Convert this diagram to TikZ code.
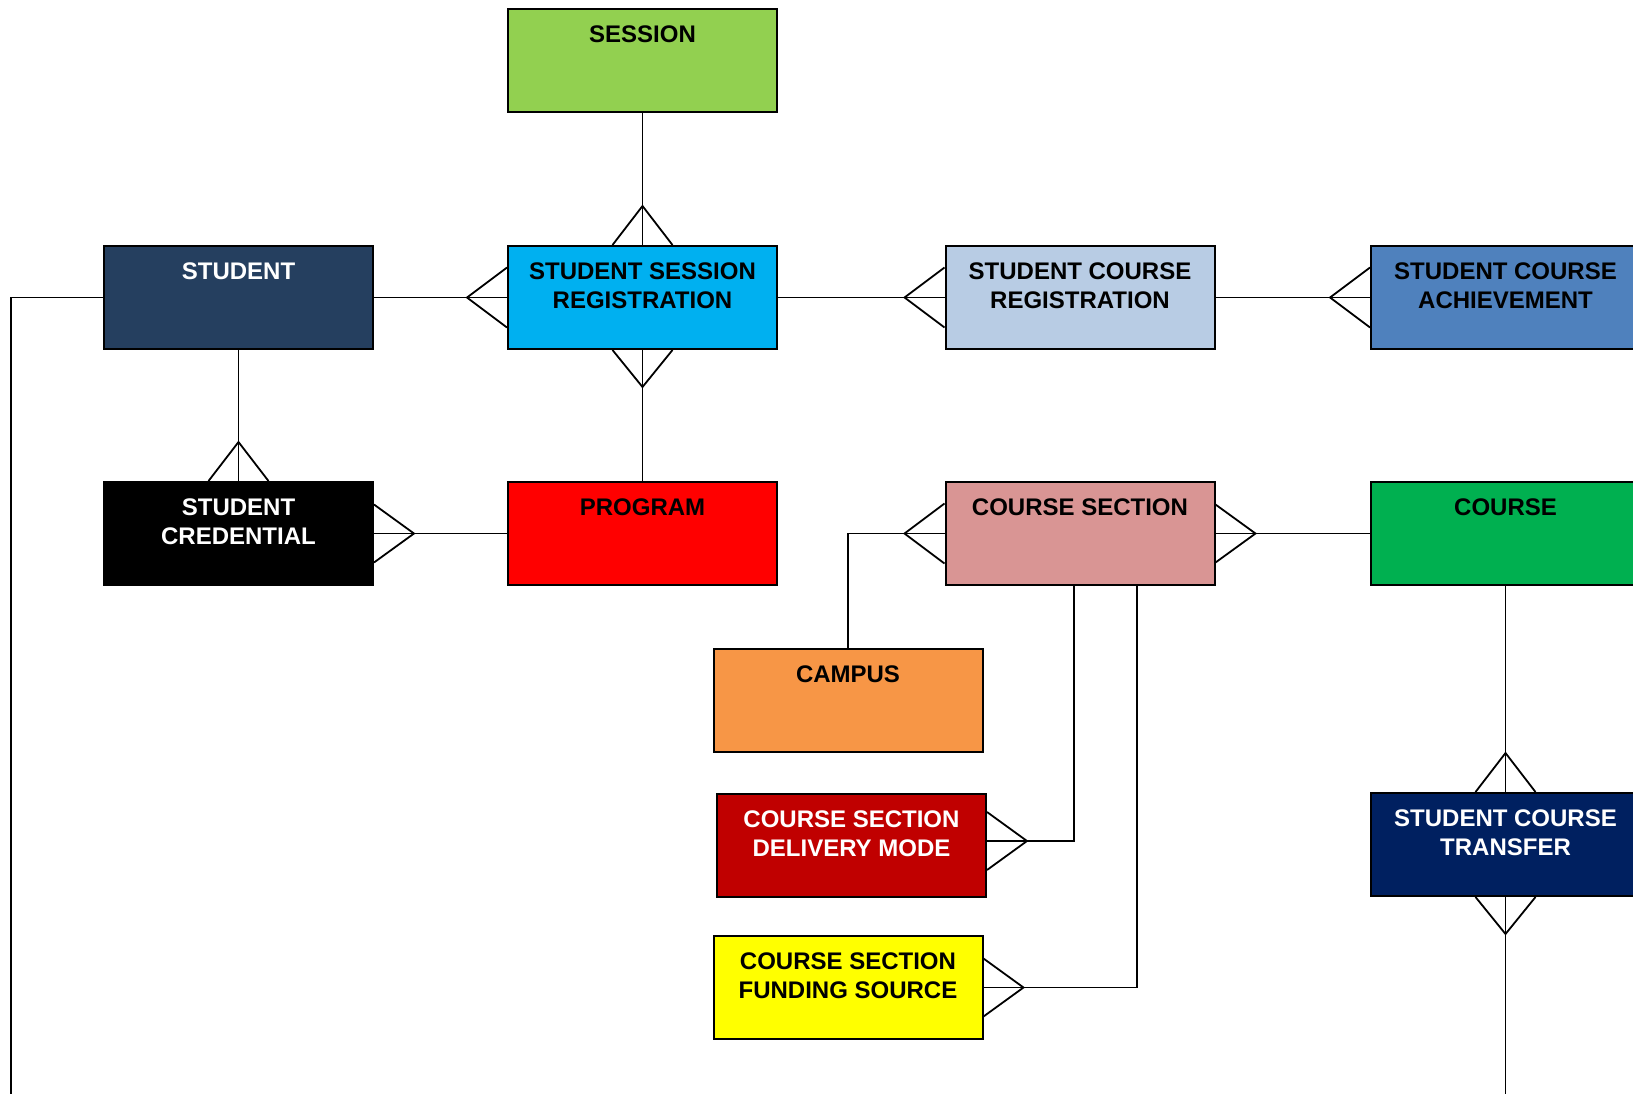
\documentclass[tikz,border=0pt]{standalone}
\usepackage{fontspec}
\setmainfont{Liberation Sans}
\definecolor{cSession}{HTML}{92D050}
\definecolor{cStudent}{HTML}{253F5F}
\definecolor{cSSR}{HTML}{00B0F0}
\definecolor{cSCR}{HTML}{B8CCE4}
\definecolor{cSCA}{HTML}{4F81BD}
\definecolor{cProgram}{HTML}{FF0000}
\definecolor{cCS}{HTML}{D99594}
\definecolor{cCourse}{HTML}{00B050}
\definecolor{cCampus}{HTML}{F79646}
\definecolor{cCSDM}{HTML}{C00000}
\definecolor{cCSFS}{HTML}{FFFF00}
\definecolor{cSCT}{HTML}{002060}
\newcommand\crowW[1]{\draw[conn] (#1) ++(0,-30) -- ++(-40,30) -- ++(40,30);}
\newcommand\crowE[1]{\draw[conn] (#1) ++(0,-29) -- ++(40,29) -- ++(-40,29);}
\newcommand\crowN[1]{\draw[conn] (#1) ++(-30,0) -- ++(30,-39) -- ++(30,39);}
\newcommand\crowS[1]{\draw[conn] (#1) ++(-30,0) -- ++(30,37) -- ++(30,-37);}
\begin{document}
\begin{tikzpicture}[x=1pt,y=-1pt,
  ent/.style={draw=black, line width=2, minimum width=269, minimum height=103, inner sep=0},
  txt/.style={anchor=north, inner sep=0, align=center, font=\bfseries\fontsize{24}{29}\selectfont},
  conn/.style={draw=black, line width=1.8}]
\fill[white] (0,0) rectangle (1633,1093);
\clip (0,0) rectangle (1633,1093);
% entities
\node[ent, fill=cSession] (session) at (642.5,60) {};
\node[ent, fill=cStudent] (student) at (238.5,297.5) {};
\node[ent, fill=cSSR] (ssr) at (642.5,297.5) {};
\node[ent, fill=cSCR] (scr) at (1080,297.5) {};
\node[ent, fill=cSCA] (sca) at (1505.5,297.5) {};
\node[ent, fill=black] (cred) at (238.5,533.5) {};
\node[ent, fill=cProgram] (program) at (642.5,533.5) {};
\node[ent, fill=cCS] (cs) at (1080,533.5) {};
\node[ent, fill=cCourse] (course) at (1505.5,533.5) {};
\node[ent, fill=cCampus] (campus) at (848,700) {};
\node[ent, fill=cCSDM] (csdm) at (851.5,845.5) {};
\node[ent, fill=cCSFS] (csfs) at (848,987.5) {};
\node[ent, fill=cSCT] (sct) at (1505.5,844.5) {};
% labels
\node[txt] (tsession) at ([yshift=-18pt]session.north) {SESSION};
\node[txt, text=white] (tstudent) at ([yshift=-18pt]student.north) {STUDENT};
\node[txt] (tssr) at ([yshift=-18pt]ssr.north) {STUDENT SESSION\\REGISTRATION};
\node[txt] (tscr) at ([yshift=-18pt]scr.north) {STUDENT COURSE\\REGISTRATION};
\node[txt] (tsca) at ([yshift=-18pt]sca.north) {STUDENT COURSE\\ACHIEVEMENT};
\node[txt, text=white] (tcred) at ([yshift=-18pt]cred.north) {STUDENT\\CREDENTIAL};
\node[txt] (tprogram) at ([yshift=-18pt]program.north) {PROGRAM};
\node[txt] (tcs) at ([yshift=-18pt]cs.north) {COURSE SECTION};
\node[txt] (tcourse) at ([yshift=-18pt]course.north) {COURSE};
\node[txt] (tcampus) at ([yshift=-18pt]campus.north) {CAMPUS};
\node[txt, text=white] (tcsdm) at ([yshift=-18pt]csdm.north) {COURSE SECTION\\DELIVERY MODE};
\node[txt] (tcsfs) at ([yshift=-18pt]csfs.north) {COURSE SECTION\\FUNDING SOURCE};
\node[txt, text=white] (tsct) at ([yshift=-18pt]sct.north) {STUDENT COURSE\\TRANSFER};
% free ends and attachment points
\coordinate (leftend) at (11,1100);
\coordinate (botend) at (sct.south |- 0,1100);
\coordinate (csdmp) at ([yshift=4.5pt]csdm.east);
% connectors
\draw[conn] (session.south) -- (ssr.north); \crowN{ssr.north}
\draw[conn] (student.east) -- (ssr.west); \crowW{ssr.west}
\draw[conn] (ssr.east) -- (scr.west); \crowW{scr.west}
\draw[conn] (scr.east) -- (sca.west); \crowW{sca.west}
\draw[conn] (ssr.south) -- (program.north); \crowS{ssr.south}
\draw[conn] (student.south) -- (cred.north); \crowN{cred.north}
\draw[conn] (program.west) -- (cred.east); \crowE{cred.east}
\draw[conn] (campus.north) |- (cs.west); \crowW{cs.west}
\draw[conn] (cs.east) -- (course.west); \crowE{cs.east}
\draw[conn] (csdmp) -| ([xshift=-6pt]cs.south); \crowE{csdmp}
\draw[conn] (csfs.east) -| ([xshift=57pt]cs.south); \crowE{csfs.east}
\draw[conn] (course.south) -- (sct.north); \crowN{sct.north}
\draw[conn] (sct.south) -- (botend); \crowS{sct.south}
\draw[conn] (student.west) -| (leftend);
\end{tikzpicture}
\end{document}
